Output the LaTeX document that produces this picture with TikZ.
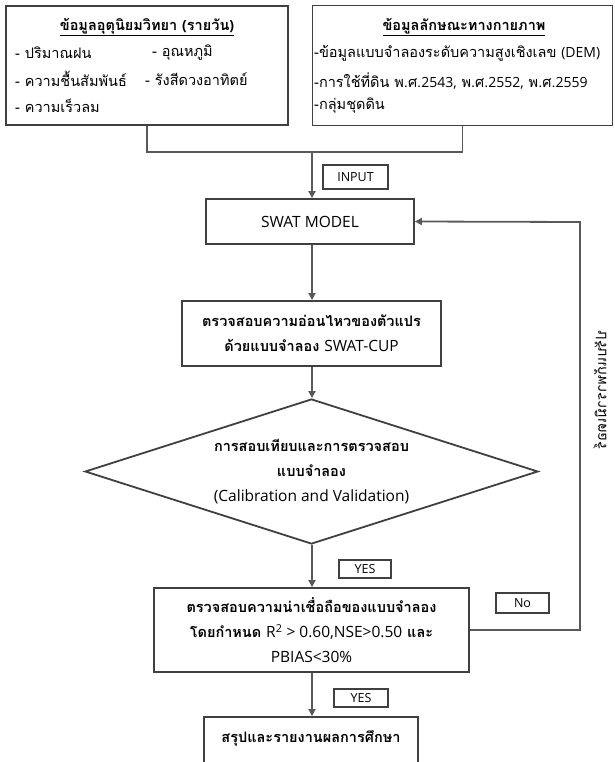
\documentclass[tikz,border=0pt]{standalone}
\usepackage{fontspec}
\usepackage{graphicx}
\setmainfont[Script=Thai]{Loma}
\newfontfamily\latfont{Open Sans}
\newcommand\latn[1]{{\latfont\fontsize{15.5}{25}\selectfont #1}}
\newcommand\latm[1]{{\latfont\fontsize{14}{25}\selectfont #1}}
\usetikzlibrary{shapes.geometric,arrows.meta}
\definecolor{lin}{HTML}{595959}
\definecolor{brd}{HTML}{404040}
\tikzset{
  box/.style={draw=brd,line width=1.8pt,fill=white,inner sep=0pt},
  tag/.style={draw=brd,line width=1.3pt,inner sep=0pt,font=\latfont\fontsize{12.5}{14}\selectfont},
  arr/.style={draw=lin,line width=1.8pt,-{Triangle[length=7pt,width=7pt]}},
  con/.style={draw=lin,line width=1.8pt},
  txt/.style={font=\fontsize{14.5}{25}\selectfont,inner sep=0pt,align=center},
  ltxt/.style={font=\fontsize{14.5}{25}\selectfont,inner sep=0pt,anchor=west},
}
\begin{document}
\begin{tikzpicture}[x=1pt,y=-1pt]
\useasboundingbox (0,0) rectangle (614,762);
% boxes
\node[box,minimum width=282pt,minimum height=119pt] (met) at (147,65.5) {};
\node[box,minimum width=300pt,minimum height=120pt] (phys) at (462.5,65.5) {};
\node[box,minimum width=208pt,minimum height=45pt] (swat) at (310,221.5) {};
\node[box,minimum width=259pt,minimum height=65pt] (sens) at (311.5,333.5) {};
\node[box,shape=diamond,minimum width=453pt,minimum height=145pt] (dia) at (311.5,471.5) {};
\node[box,minimum width=315pt,minimum height=84pt] (rel) at (311.5,630) {};
\node[box,minimum width=214pt,minimum height=60pt] (fin) at (311,747) {};
% texts, top-left
\node[txt] (t1) at (147,27) {\textbf{\underline{ข้อมูลอุตุนิยมวิทยา \latm{(}รายวัน\latm{)}}}};
\node[ltxt] (t1a) at (15,53) {- ปริมาณฝน};
\node[ltxt] (t1b) at (152,53) {- อุณหภูมิ};
\node[ltxt] (t1c) at (15,79) {- ความชื้นสัมพันธ์};
\node[ltxt] (t1d) at (145,79) {- รังสีดวงอาทิตย์};
\node[ltxt] (t1e) at (15,106) {- ความเร็วลม};
% texts, top-right
\node[txt] (t2) at (464,27) {\textbf{\underline{ข้อมูลลักษณะทางกายภาพ}}};
\node[ltxt] (t2a) at (314,53) {-ข้อมูลแบบจำลองระดับความสูงเชิงเลข \latm{(DEM)}};
\node[ltxt] (t2b) at (314,81) {-การใช้ที่ดิน พ.ศ.\latm{2543,} พ.ศ.\latm{2552,} พ.ศ.\latm{2559}};
\node[ltxt] (t2c) at (314,106) {-กลุ่มชุดดิน};
% inner texts
\node[txt] (ts) at (swat) {\latn{SWAT MODEL}};
\node[txt] (tsens) at (sens) {\textbf{ตรวจสอบความอ่อนไหวของตัวแปร}\\\textbf{ด้วยแบบจำลอง} \latn{SWAT-CUP}};
\node[txt] (tdia) at (311.5,471.5) {\textbf{การสอบเทียบและการตรวจสอบ}\\\textbf{แบบจำลอง}\\\latn{(Calibration and Validation)}};
\node[txt] (trel) at (311.5,630) {\textbf{ตรวจสอบความน่าเชื่อถือของแบบจำลอง}\\\textbf{โดยกำหนด} \latn{R\textsuperscript{2} > 0.60,NSE>0.50} \textbf{และ}\\\latn{PBIAS<30\%}};
\node[txt] (tfin) at (311,738) {\textbf{สรุปและรายงานผลการศึกษา}};
% connectors
\coordinate (j) at (312,152);
\draw[con] (met.south) |- (j);
\draw[con] (phys.south) |- (j);
\draw[arr] (j) -- (swat.north -| j);
\draw[arr] (swat.south -| j) -- (sens.north -| j);
\draw[arr] (sens.south -| j) -- (dia.north -| j);
\draw[arr] (dia.south -| j) -- (rel.north -| j);
\draw[arr] (rel.south -| j) -- (fin.north -| j);
\coordinate (fb) at (580,222);
\draw[arr] (rel.east) -| (fb) -- (swat.east);
% tags
\node[tag,minimum width=65pt,minimum height=24pt] (input) at (355.5,177) {INPUT};
\node[tag,minimum width=52pt,minimum height=18pt] (yes1) at (365,569) {YES};
\node[tag,minimum width=53pt,minimum height=20pt] (no) at (522.5,603) {No};
\node[tag,minimum width=54pt,minimum height=18pt] (yes2) at (361,698) {YES};
\node[rotate=90,font=\fontsize{14.5}{16}\selectfont,inner sep=0pt] (vl) at (600,390) {\reflectbox{ปรับแก้พารามิเตอร์}};
\end{tikzpicture}
\end{document}
